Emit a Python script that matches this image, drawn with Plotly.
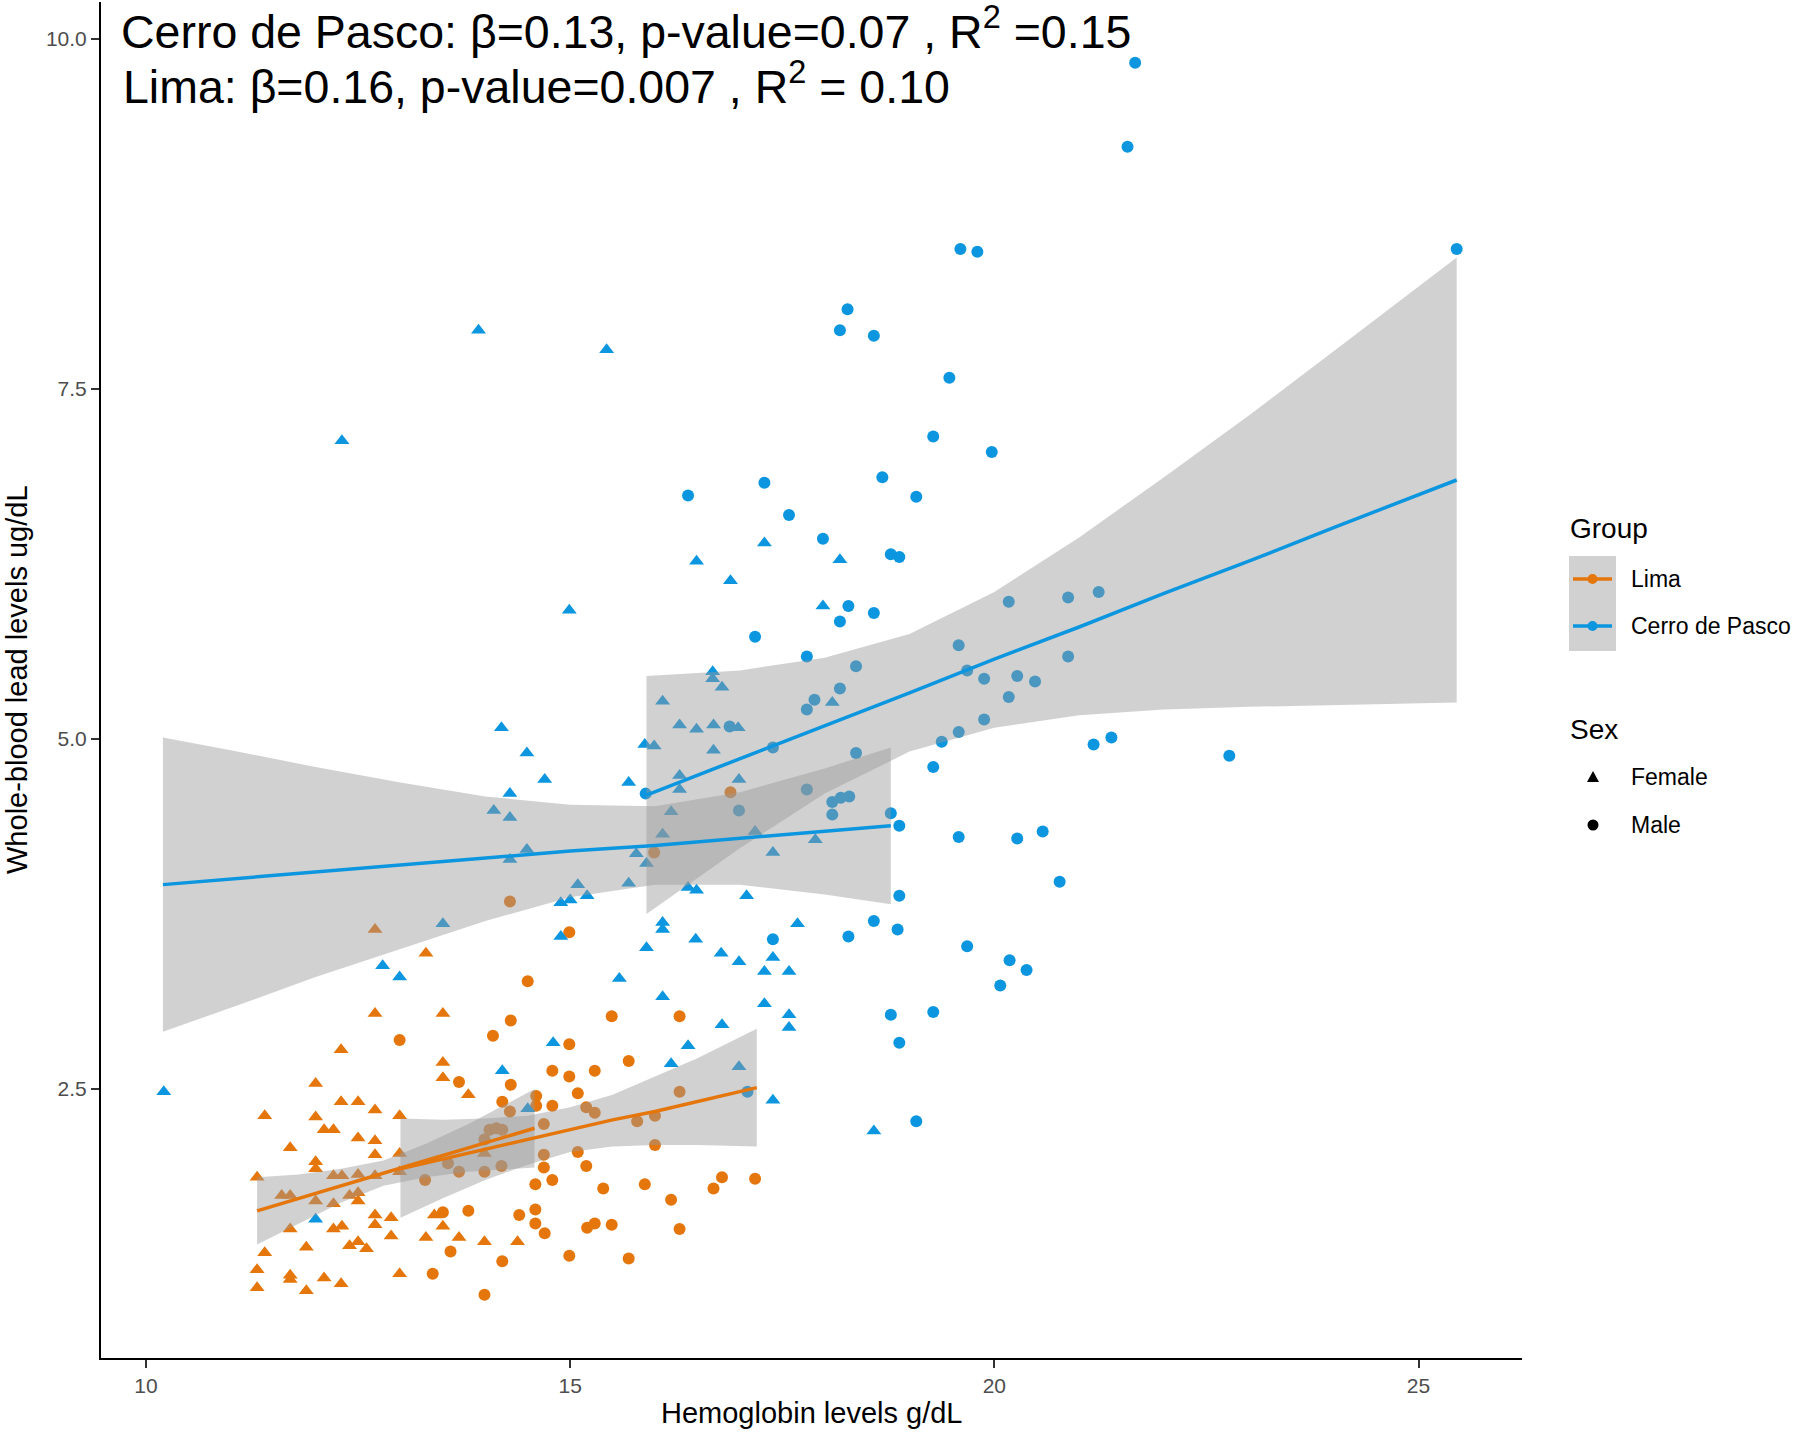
import plotly.graph_objects as go

W, H = 1800, 1433

# ---------------- data ----------------
lima_f_x = [12.70, 13.30, 12.70, 13.50, 12.30, 13.50, 13.50, 13.80, 12.00, 12.30,
            12.50, 12.70, 12.99, 11.40, 12.00, 12.10, 12.21, 12.50, 12.70, 12.70,
            11.70, 12.99, 12.00, 12.00, 11.31, 12.21, 12.31, 12.50, 12.70, 11.60,
            11.70, 12.00, 12.21, 12.40, 12.50, 12.50, 12.70, 12.70, 12.89, 12.21,
            12.31, 11.70, 11.40, 11.89, 12.40, 12.50, 12.60, 12.89, 13.30, 13.50,
            13.69, 13.99, 11.31, 11.31, 11.70, 11.70, 12.10, 12.30, 11.89, 12.99,
            13.40, 14.38, 13.99, 12.99]
lima_f_y = [3.64, 3.47, 3.04, 3.04, 2.78, 2.69, 2.58, 2.46, 2.54, 2.41,
            2.41, 2.35, 2.31, 2.31, 2.30, 2.21, 2.21, 2.15, 2.13, 2.03,
            2.08, 2.04, 1.98, 1.93, 1.87, 1.88, 1.88, 1.89, 1.88, 1.74,
            1.74, 1.70, 1.68, 1.74, 1.76, 1.70, 1.60, 1.53, 1.58, 1.50,
            1.52, 1.50, 1.33, 1.37, 1.38, 1.41, 1.36, 1.45, 1.44, 1.52,
            1.44, 1.41, 1.21, 1.08, 1.17, 1.14, 1.15, 1.11, 1.06, 1.18,
            1.60, 1.41, 2.04, 1.91]

lima_m_x = [12.99, 14.09, 13.69, 14.20, 13.29, 13.69, 13.99, 13.50, 13.80, 13.59,
            14.20, 13.38, 13.99, 14.05, 14.13, 13.56, 14.30, 15.49, 14.99, 14.30,
            14.79, 14.99, 15.29, 15.69, 15.09, 14.60, 14.60, 14.79, 15.19, 15.29,
            14.69, 15.79, 13.99, 14.19, 14.69, 15.09, 14.69, 14.79, 14.59, 15.19,
            15.39, 15.88, 14.40, 14.59, 14.59, 14.70, 15.20, 15.29, 15.49, 14.29,
            14.99, 14.50, 16.29, 16.29, 14.29, 16.00, 16.00, 14.20, 16.19, 16.79,
            16.69, 17.18, 16.29, 14.99, 15.69, 16.89, 15.99]
lima_m_y = [2.85, 2.88, 2.55, 2.41, 1.85, 1.91, 1.91, 1.62, 1.63, 1.34,
            1.27, 1.18, 1.03, 2.21, 2.22, 1.97, 2.99, 3.02, 2.82, 2.53,
            2.63, 2.59, 2.63, 2.70, 2.47, 2.45, 2.38, 2.38, 2.37, 2.33,
            2.25, 2.27, 2.14, 1.95, 2.03, 2.05, 1.94, 1.85, 1.82, 1.95,
            1.79, 1.82, 1.60, 1.64, 1.54, 1.47, 1.51, 1.54, 1.53, 3.84,
            3.62, 3.27, 3.02, 2.48, 2.34, 2.31, 2.10, 2.21, 1.71, 1.87,
            1.79, 1.86, 1.50, 1.31, 1.29, 4.62, 4.19]

cdp_f_x = [10.21, 12.31, 13.92, 15.43, 14.99, 14.19, 14.49, 14.70, 15.69, 15.88,
           15.99, 14.29, 14.10, 14.29, 14.49, 14.29, 15.78, 15.90, 15.09, 15.69,
           14.89, 15.00, 15.20, 14.89, 16.09, 16.09, 17.68, 15.90, 16.48, 16.78,
           16.99, 17.39, 17.29, 17.58, 15.58, 16.09, 17.29, 17.58, 17.58, 16.79,
           16.39, 16.19, 16.99, 17.39, 14.80, 14.50, 14.20, 18.58, 13.50, 12.79,
           12.99, 12.00, 17.29, 16.49, 16.89, 18.18, 17.98, 16.68, 16.68, 16.79,
           16.09, 16.29, 16.49, 16.69, 16.98, 18.09, 16.69, 16.29, 16.29, 16.99,
           16.19, 16.09, 17.18, 17.89, 17.39, 16.39, 16.49, 17.08]
cdp_f_y = [2.48, 7.13, 7.92, 7.78, 5.92, 5.08, 4.90, 4.71, 4.69, 4.96,
           4.95, 4.61, 4.49, 4.44, 4.21, 4.14, 4.18, 4.11, 3.96, 3.97,
           3.83, 3.85, 3.88, 3.59, 3.69, 3.64, 3.68, 3.51, 3.57, 3.47,
           3.41, 3.44, 3.34, 3.34, 3.29, 3.16, 3.11, 3.03, 2.94, 2.96,
           2.81, 2.68, 2.66, 2.42, 2.83, 2.36, 2.63, 2.20, 3.68, 3.38,
           3.30, 1.57, 6.40, 6.27, 6.13, 6.28, 5.95, 5.48, 5.43, 5.37,
           5.27, 5.10, 5.07, 5.10, 5.08, 5.26, 4.92, 4.74, 4.64, 4.71,
           4.48, 4.32, 4.34, 4.28, 4.19, 3.94, 3.92, 3.88]

cdp_m_x = [21.66, 21.57, 19.60, 19.80, 25.45, 18.27, 18.18, 18.58, 19.47, 19.28,
           19.97, 16.39, 17.29, 18.68, 19.08, 17.58, 17.98, 18.78, 18.88, 18.28,
           18.18, 18.58, 17.18, 17.79, 18.37, 20.17, 20.87, 21.23, 19.58, 19.68,
           19.88, 20.27, 20.48, 20.87, 20.17, 19.88, 18.18, 17.88, 17.79, 17.39,
           18.37, 19.58, 19.38, 19.28, 21.17, 21.38, 22.77, 16.88, 16.99, 17.79,
           18.09, 18.19, 18.29, 18.09, 18.78, 18.88, 19.58, 20.27, 20.57, 20.77,
           18.88, 17.39, 18.28, 18.58, 18.86, 19.68, 20.18, 20.38, 20.07, 18.78,
           19.28, 18.88, 19.08, 17.09, 15.89]
cdp_m_y = [9.83, 9.23, 8.50, 8.48, 8.50, 8.07, 7.92, 7.88, 7.58, 7.16,
           7.05, 6.74, 6.83, 6.87, 6.73, 6.60, 6.43, 6.32, 6.30, 5.95,
           5.84, 5.90, 5.73, 5.59, 5.52, 5.98, 6.01, 6.05, 5.67, 5.49,
           5.43, 5.45, 5.41, 5.59, 5.30, 5.14, 5.36, 5.28, 5.21, 4.94,
           4.90, 5.05, 4.98, 4.80, 4.96, 5.01, 4.88, 5.09, 4.49, 4.64,
           4.55, 4.58, 4.59, 4.46, 4.47, 4.38, 4.30, 4.29, 4.34, 3.98,
           3.88, 3.57, 3.59, 3.70, 3.64, 3.52, 3.42, 3.35, 3.24, 3.03,
           3.05, 2.83, 2.27, 2.48, 4.61]

# fitted lines and confidence bands
lima_f_fit_x = [11.31, 11.8, 12.3, 12.8, 13.3, 13.8, 14.3, 14.58]
lima_f_fit = [1.63, 1.72, 1.81, 1.90, 1.99, 2.08, 2.17, 2.22]
lima_f_lo = [1.39, 1.54, 1.69, 1.81, 1.87, 1.91, 1.93, 1.94]
lima_f_hi = [1.87, 1.89, 1.93, 1.99, 2.11, 2.25, 2.41, 2.50]

lima_m_fit_x = [13.0, 13.5, 14.0, 14.5, 15.0, 15.5, 16.0, 16.5, 17.2]
lima_m_fit = [1.93, 2.00, 2.07, 2.14, 2.21, 2.28, 2.34, 2.41, 2.51]
lima_m_lo = [1.58, 1.72, 1.85, 1.96, 2.05, 2.09, 2.10, 2.10, 2.09]
lima_m_hi = [2.29, 2.28, 2.29, 2.31, 2.37, 2.46, 2.59, 2.72, 2.93]

cdp_f_fit_x = [10.2, 11, 12, 13, 14, 15, 16, 17, 18, 18.78]
cdp_f_fit = [3.96, 4.00, 4.05, 4.10, 4.15, 4.20, 4.24, 4.29, 4.34, 4.38]
cdp_f_lo = [2.91, 3.08, 3.30, 3.50, 3.70, 3.87, 3.96, 3.96, 3.89, 3.82]
cdp_f_hi = [5.01, 4.92, 4.80, 4.69, 4.59, 4.53, 4.52, 4.62, 4.79, 4.94]

cdp_m_fit_x = [15.9, 17, 18, 19, 20, 21, 22, 23, 24, 25.45]
cdp_m_fit = [4.60, 4.86, 5.09, 5.33, 5.57, 5.80, 6.04, 6.27, 6.51, 6.85]
cdp_m_lo = [3.75, 4.22, 4.61, 4.91, 5.08, 5.17, 5.21, 5.23, 5.24, 5.26]
cdp_m_hi = [5.45, 5.49, 5.58, 5.75, 6.05, 6.44, 6.87, 7.31, 7.77, 8.44]

x_ticks = [10, 15, 20, 25]
y_ticks = [2.5, 5.0, 7.5, 10.0]

title_lines = ["Cerro de Pasco: β=0.13, p-value=0.07 , R<sup>2</sup> =0.15",
               "Lima: β=0.16, p-value=0.007 , R<sup>2</sup> = 0.10"]
group_labels = ["Lima", "Cerro de Pasco"]
sex_labels = ["Female", "Male"]

# ---------------- style ----------------
ORANGE = "#E5760B"
BLUE = "#0C96DF"
RIBBON = "rgba(153,153,153,0.45)"
FONT = "Liberation Sans, Arial, Helvetica, sans-serif"

fig = go.Figure()

# points
for xs, ys, col, sym, sz in [
    (lima_f_x, lima_f_y, ORANGE, "triangle-up", 13),
    (lima_m_x, lima_m_y, ORANGE, "circle", 12),
    (cdp_f_x, cdp_f_y, BLUE, "triangle-up", 13),
    (cdp_m_x, cdp_m_y, BLUE, "circle", 12),
]:
    fig.add_trace(go.Scatter(x=xs, y=ys, mode="markers",
                             marker=dict(color=col, symbol=sym, size=sz, line=dict(width=0)),
                             hoverinfo="x+y"))

# ribbons (drawn over the points, as in ggplot)
for fx, lo, hi in [
    (lima_f_fit_x, lima_f_lo, lima_f_hi),
    (lima_m_fit_x, lima_m_lo, lima_m_hi),
    (cdp_f_fit_x, cdp_f_lo, cdp_f_hi),
    (cdp_m_fit_x, cdp_m_lo, cdp_m_hi),
]:
    fig.add_trace(go.Scatter(x=list(fx) + list(fx[::-1]), y=list(hi) + list(lo[::-1]),
                             mode="lines", fill="toself", fillcolor=RIBBON,
                             line=dict(width=0, color="rgba(0,0,0,0)"), hoverinfo="skip"))

# fit lines
for fx, fy, col in [
    (lima_f_fit_x, lima_f_fit, ORANGE),
    (lima_m_fit_x, lima_m_fit, ORANGE),
    (cdp_f_fit_x, cdp_f_fit, BLUE),
    (cdp_m_fit_x, cdp_m_fit, BLUE),
]:
    fig.add_trace(go.Scatter(x=fx, y=fy, mode="lines", line=dict(color=col, width=3.5),
                             hoverinfo="skip"))


def px(x):
    return x / W


def py(y):
    return 1 - y / H


annotations = []
# stats text
annotations.append(dict(x=px(119), y=py(29), xref="paper", yref="paper", text=title_lines[0],
                        showarrow=False, xanchor="left", yanchor="middle",
                        font=dict(size=46.5, color="black", family=FONT)))
annotations.append(dict(x=px(121), y=py(84), xref="paper", yref="paper", text=title_lines[1],
                        showarrow=False, xanchor="left", yanchor="middle",
                        font=dict(size=46.5, color="black", family=FONT)))
# axis titles
annotations.append(dict(x=px(811), y=py(1413), xref="paper", yref="paper",
                        text="Hemoglobin levels g/dL", showarrow=False,
                        xanchor="center", yanchor="middle",
                        font=dict(size=29, color="black", family=FONT)))
annotations.append(dict(x=px(17), y=py(680), xref="paper", yref="paper",
                        text="Whole-blood lead levels ug/dL", showarrow=False, textangle=-90,
                        xanchor="center", yanchor="middle",
                        font=dict(size=29, color="black", family=FONT)))
# legend texts
annotations.append(dict(x=px(1568), y=py(528), xref="paper", yref="paper", text="Group",
                        showarrow=False, xanchor="left", yanchor="middle",
                        font=dict(size=28, color="black", family=FONT)))
annotations.append(dict(x=px(1568), y=py(729), xref="paper", yref="paper", text="Sex",
                        showarrow=False, xanchor="left", yanchor="middle",
                        font=dict(size=28, color="black", family=FONT)))
for lbl, yy in zip(group_labels, [579, 626]):
    annotations.append(dict(x=px(1629), y=py(yy), xref="paper", yref="paper", text=lbl,
                            showarrow=False, xanchor="left", yanchor="middle",
                            font=dict(size=23, color="black", family=FONT)))
for lbl, yy in zip(sex_labels, [777, 825]):
    annotations.append(dict(x=px(1629), y=py(yy), xref="paper", yref="paper", text=lbl,
                            showarrow=False, xanchor="left", yanchor="middle",
                            font=dict(size=23, color="black", family=FONT)))

shapes = []
# legend key background
shapes.append(dict(type="rect", xref="paper", yref="paper", x0=px(1569), x1=px(1616),
                   y0=py(651), y1=py(556), fillcolor=RIBBON, line=dict(width=0), layer="above"))
for col, yy in zip([ORANGE, BLUE], [579, 626]):
    shapes.append(dict(type="line", xref="paper", yref="paper", x0=px(1573), x1=px(1612),
                       y0=py(yy), y1=py(yy), line=dict(color=col, width=3.5), layer="above"))
    shapes.append(dict(type="circle", xref="paper", yref="paper", x0=px(1587.5), x1=px(1597.5),
                       y0=py(yy + 5), y1=py(yy - 5), fillcolor=col, line=dict(width=0),
                       layer="above"))
# sex keys
tri = "M {:.5f} {:.5f} L {:.5f} {:.5f} L {:.5f} {:.5f} Z".format(
    px(1593), py(771), px(1587), py(782), px(1599), py(782))
shapes.append(dict(type="path", xref="paper", yref="paper", path=tri, fillcolor="black",
                   line=dict(width=0), layer="above"))
shapes.append(dict(type="circle", xref="paper", yref="paper", x0=px(1587.5), x1=px(1598.5),
                   y0=py(830.5), y1=py(819.5), fillcolor="black", line=dict(width=0),
                   layer="above"))

fig.update_layout(
    width=W, height=H,
    margin=dict(l=0, r=0, t=0, b=0),
    plot_bgcolor="white", paper_bgcolor="white",
    showlegend=False,
    font=dict(family=FONT),
    annotations=annotations,
    shapes=shapes,
    xaxis=dict(domain=[px(101), px(1522)], range=[9.47, 26.22], tickvals=x_ticks,
               showline=True, linecolor="black", linewidth=2, ticks="outside", ticklen=8,
               tickwidth=2, tickcolor="#333333", showgrid=False, zeroline=False,
               tickfont=dict(size=21, color="#4D4D4D", family=FONT)),
    yaxis=dict(domain=[py(1358), py(2)], range=[0.579, 10.264], tickvals=y_ticks,
               tickformat=".1f",
               showline=True, linecolor="black", linewidth=2, ticks="outside", ticklen=8,
               tickwidth=2, tickcolor="#333333", showgrid=False, zeroline=False,
               tickfont=dict(size=21, color="#4D4D4D", family=FONT)),
)

fig.write_html("out.html",
               config={"displayModeBar": False},
               post_script="document.body.style.margin='0px';"
                           "document.body.style.overflow='hidden';")
